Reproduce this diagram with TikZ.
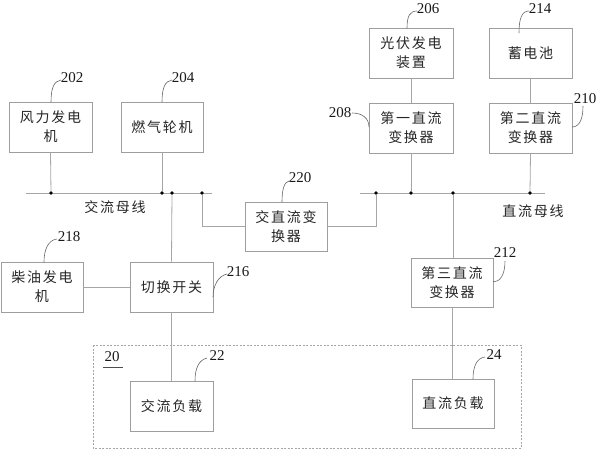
\documentclass[tikz,border=0pt]{standalone}
\usepackage{fontspec}
\setmainfont{Liberation Serif}
\newfontfamily\cjk[LetterSpace=12]{Noto Sans CJK SC}
\begin{document}
\begin{tikzpicture}[x=1pt,y=-1pt,
  blk/.style={draw=black!38, line width=0.8pt, inner sep=0pt, align=center,
    font=\cjk\fontsize{14}{19}\selectfont, text=black!85},
  wire/.style={draw=black!35, line width=0.8pt},
  lead/.style={draw=black!60, line width=0.6pt},
  num/.style={font=\fontsize{15}{15}\selectfont, inner sep=0pt, text=black!90},
  lbl/.style={font=\cjk\fontsize{14}{14}\selectfont, inner sep=0pt, text=black!85},
  dot/.style={circle, fill=black, inner sep=0pt, minimum size=3.8pt},
  grp/.style={draw=black!35, line width=0.7pt, dash pattern=on 2pt off 1.5pt}]
\useasboundingbox (0,0) rectangle (598,450);
% group box
\draw[grp] (93,345) rectangle (521,448);
\node[num] (n20) at (112,357) {20};
\draw[black!70, line width=0.6pt] (103,367) -- (123,367);
% boxes
\node[blk, minimum width=83pt, minimum height=50pt] (wind) at (50.5,127) {风力发电\\机};
\node[blk, minimum width=82pt, minimum height=50pt] (gas) at (162,127) {燃气轮机};
\node[blk, minimum width=84pt, minimum height=50pt] (pv) at (411,53) {光伏发电\\装置};
\node[blk, minimum width=83pt, minimum height=50pt] (bat) at (530.5,53) {蓄电池};
\node[blk, minimum width=84pt, minimum height=50pt] (dc1) at (411,128) {第一直流\\变换器};
\node[blk, minimum width=83pt, minimum height=50pt] (dc2) at (530.5,128) {第二直流\\变换器};
\node[blk, minimum width=82pt, minimum height=49pt] (acdc) at (286,226.5) {交直流变\\换器};
\node[blk, minimum width=82pt, minimum height=50pt] (diesel) at (42,287) {柴油发电\\机};
\node[blk, minimum width=83pt, minimum height=50pt] (sw) at (171.5,287) {切换开关};
\node[blk, minimum width=82pt, minimum height=49pt] (dc3) at (452,282.5) {第三直流\\变换器};
\node[blk, minimum width=83pt, minimum height=50pt] (acl) at (171.5,406) {交流负载};
\node[blk, minimum width=82pt, minimum height=49pt] (dcl) at (453,403.5) {直流负载};
% buses
\coordinate (acL) at (26,193);
\coordinate (acR) at (212,193);
\coordinate (dcL) at (360,193);
\coordinate (dcR) at (545,193);
\draw[wire] (acL) -- (acR);
\draw[wire] (dcL) -- (dcR);
\node[lbl] (acbus) at (115,207) {交流母线};
\node[lbl] (dcbus) at (533,211) {直流母线};
% bus taps
\node[dot] (t1) at (51,193) {};
\node[dot] (t2) at (162,193) {};
\node[dot] (t3) at (172,193) {};
\node[dot] (t4) at (202,193) {};
\node[dot] (d1) at (376,193) {};
\node[dot] (d2) at (411,193) {};
\node[dot] (d3) at (453,193) {};
\node[dot] (d4) at (530,193) {};
\draw[wire] (wind.south) -- (t1);
\draw[wire] (gas.south) -- (t2);
\draw[wire] (t3) -- (sw.north);
\draw[wire] (t4) |- (acdc.west);
\draw[wire] (d1) |- (acdc.east);
\draw[wire] (pv.south) -- (dc1.north);
\draw[wire] (dc1.south) -- (d2);
\draw[wire] (bat.south) -- (dc2.north);
\draw[wire] (dc2.south) -- (d4);
\draw[wire] (d3) -- (d3 |- dc3.north);
\draw[wire] (dc3.south) -- (dc3.south |- dcl.north);
\draw[wire] (diesel.east) -- (sw.west);
\draw[wire] (sw.south) -- (acl.north);
% reference numbers and leaders
\node[num] (n202) at (72,78) {202};
\draw[lead] (51,102) .. controls (51,88) and (54,81) .. (61,80);
\node[num] (n204) at (183,78) {204};
\draw[lead] (162,102) .. controls (162,88) and (165,81) .. (172,80);
\node[num] (n206) at (428,9) {206};
\draw[lead] (407,28) .. controls (407,16) and (410,11) .. (417,11);
\node[num] (n214) at (540,9) {214};
\draw[lead] (519,33) .. controls (519,18) and (522,11) .. (529,11);
\node[num] (n208) at (340,113) {208};
\draw[lead] (352,113) .. controls (362,113) and (369,118) .. (369,127);
\node[num] (n210) at (585,99) {210};
\draw[lead] (583,106) .. controls (583,118) and (580,127) .. (572,127);
\node[num] (n220) at (300,178) {220};
\draw[lead] (282,202) .. controls (282,190) and (284,182) .. (289,181);
\node[num] (n218) at (69,237) {218};
\draw[lead] (44,262) .. controls (44,250) and (48,240) .. (57,239);
\node[num] (n216) at (238,272) {216};
\draw[lead] (213,297) .. controls (213,286) and (218,276) .. (227,274);
\node[num] (n22) at (217,356) {22};
\draw[lead] (195,381) .. controls (195,368) and (199,360) .. (207,358);
\node[num] (n212) at (505,253) {212};
\draw[lead] (493,282) .. controls (500,282) and (505,275) .. (505,261);
\node[num] (n24) at (494,355) {24};
\draw[lead] (473,379) .. controls (473,366) and (477,358) .. (485,357);
\end{tikzpicture}
\end{document}
